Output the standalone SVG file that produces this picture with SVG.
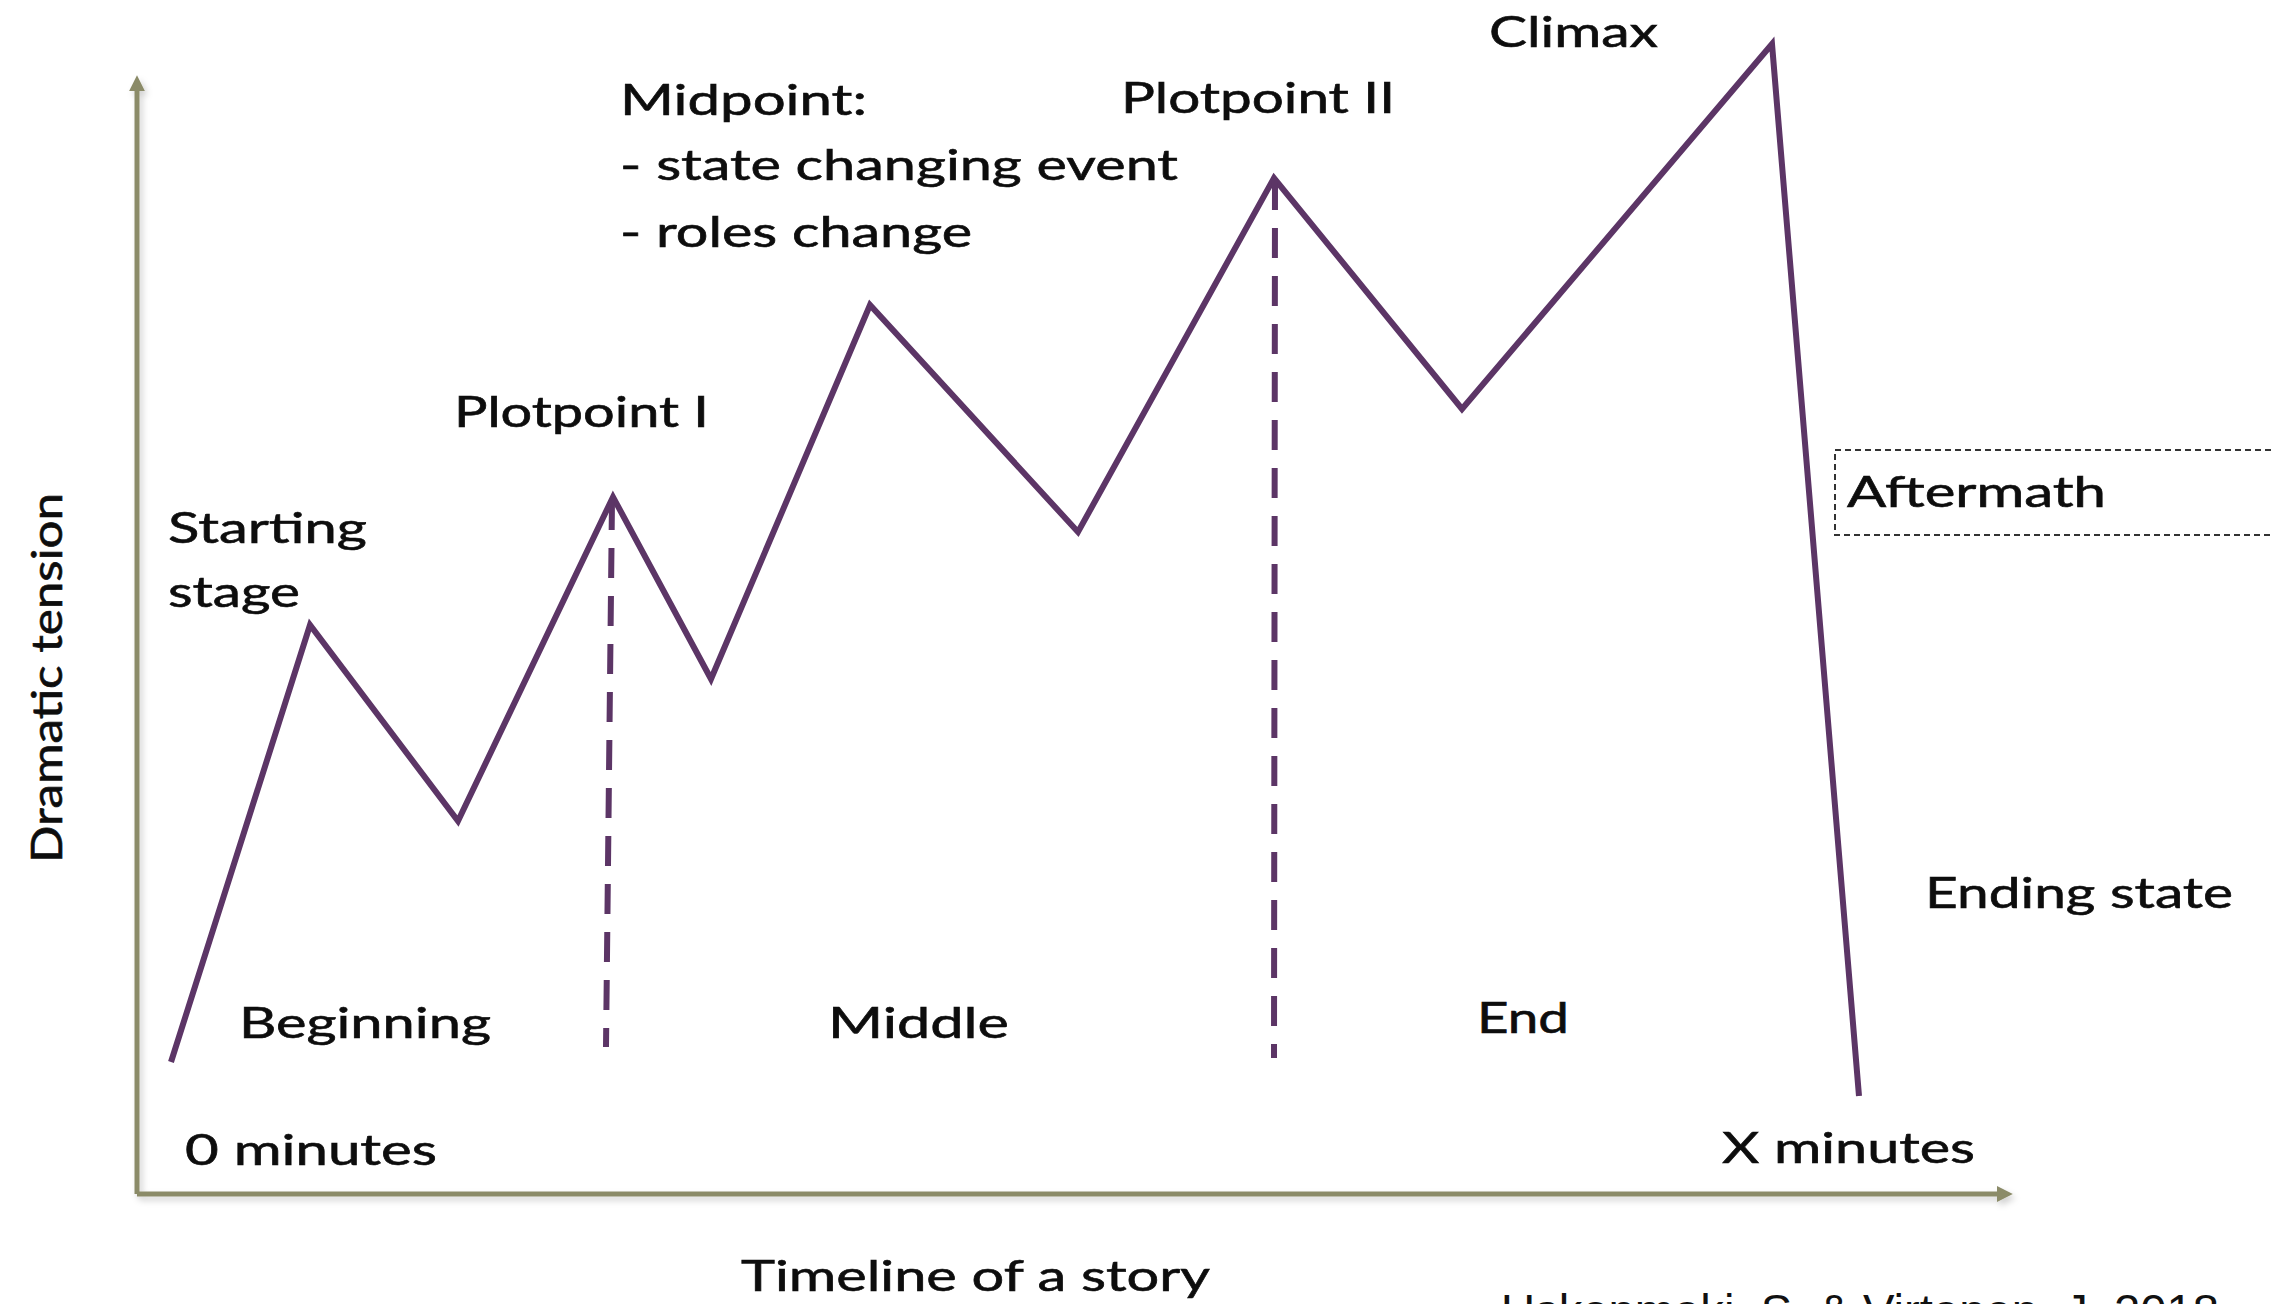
<svg xmlns="http://www.w3.org/2000/svg" width="2274" height="1304" viewBox="0 0 2274 1304">
  <style>
    .lbl { font-family: "Lato", "Open Sans", "Liberation Sans", sans-serif; font-size: 42px; fill: #0d0d0d; stroke: #0d0d0d; stroke-width: 0.6; }
    .axis { stroke: #8b8b68; stroke-width: 5; fill: none; }
    .curve { stroke: #5c3566; stroke-width: 6; fill: none; stroke-linejoin: miter; stroke-linecap: butt; }
    .divider { stroke: #5c3566; stroke-width: 6; fill: none; stroke-dasharray: 30 18; }
    .cite { font-family: "Liberation Sans", Arial, sans-serif; font-size: 46px; fill: #111; }
  </style>
  <defs>
    <filter id="shadow" x="-5%" y="-5%" width="110%" height="110%">
      <feDropShadow dx="3" dy="4" stdDeviation="3" flood-color="#000" flood-opacity="0.18"/>
    </filter>
    <marker id="axisHead" viewBox="0 0 10 10" refX="2" refY="5" markerWidth="3.2" markerHeight="3.2" orient="auto" markerUnits="strokeWidth">
      <path d="M0,0 L10,5 L0,10 z" fill="#8b8b68"/>
    </marker>
  </defs>
  <rect width="2274" height="1304" fill="#ffffff"/>

  <g id="connectors">
    <g id="axes" filter="url(#shadow)">
      <line class="axis" x1="137" y1="1194" x2="137" y2="88" marker-end="url(#axisHead)"/>
      <line class="axis" x1="137" y1="1194" x2="2000" y2="1194" marker-end="url(#axisHead)"/>
    </g>
    <polyline id="tension-curve" class="curve" points="171,1062 310,625 458,821 613,497 711,679 870,305 1078,532 1274,178 1462,409 1772,44 1859,1096"/>
    <line id="divider-1" class="divider" x1="612" y1="500" x2="606" y2="1047"/>
    <line id="divider-2" class="divider" x1="1275" y1="180" x2="1274" y2="1058"/>
  </g>

  <g id="node-climax"><text class="lbl" x="1489" y="47" font-size="40" textLength="169" lengthAdjust="spacingAndGlyphs">Climax</text></g>
  <g id="node-midpoint">
    <text class="lbl" x="620" y="115" textLength="247" lengthAdjust="spacingAndGlyphs">Midpoint:</text>
    <text class="lbl" x="620" y="180" textLength="558" lengthAdjust="spacingAndGlyphs">- state changing event</text>
    <text class="lbl" x="620" y="247" textLength="352" lengthAdjust="spacingAndGlyphs">- roles change</text>
  </g>
  <g id="node-plotpoint2"><text class="lbl" x="1121" y="113" textLength="274" lengthAdjust="spacingAndGlyphs">Plotpoint II</text></g>
  <g id="node-plotpoint1"><text class="lbl" x="454" y="427" textLength="255" lengthAdjust="spacingAndGlyphs">Plotpoint I</text></g>
  <g id="node-starting">
    <text class="lbl" x="168" y="543" textLength="199" lengthAdjust="spacingAndGlyphs">Starting</text>
    <text class="lbl" x="168" y="607" textLength="132" lengthAdjust="spacingAndGlyphs">stage</text>
  </g>
  <g id="node-aftermath">
    <rect x="1835" y="450" width="520" height="85" fill="none" stroke="#333" stroke-width="2" stroke-dasharray="6 4"/>
    <text class="lbl" x="1847" y="507" font-size="45" textLength="259" lengthAdjust="spacingAndGlyphs">Aftermath</text>
  </g>
  <g id="node-ending"><text class="lbl" x="1925" y="908" textLength="308" lengthAdjust="spacingAndGlyphs">Ending state</text></g>
  <g id="node-beginning"><text class="lbl" x="239" y="1038" textLength="252" lengthAdjust="spacingAndGlyphs">Beginning</text></g>
  <g id="node-middle"><text class="lbl" x="828" y="1038" textLength="181" lengthAdjust="spacingAndGlyphs">Middle</text></g>
  <g id="node-end"><text class="lbl" x="1477" y="1033" textLength="92" lengthAdjust="spacingAndGlyphs">End</text></g>
  <g id="node-zero"><text class="lbl" x="185" y="1165" textLength="252" lengthAdjust="spacingAndGlyphs">0 minutes</text></g>
  <g id="node-x"><text class="lbl" x="1722" y="1163" textLength="253" lengthAdjust="spacingAndGlyphs">X minutes</text></g>
  <g id="node-timeline"><text class="lbl" x="741" y="1291" textLength="469" lengthAdjust="spacingAndGlyphs">Timeline of a story</text></g>
  <g id="node-tension"><text class="lbl" transform="translate(62,863) rotate(-90)" x="0" y="0" font-size="56" textLength="370" lengthAdjust="spacingAndGlyphs">Dramatic tension</text></g>
  <g id="node-citation"><text class="cite" x="1501" y="1327" textLength="718" lengthAdjust="spacingAndGlyphs">Uskonmaki, S. &amp; Virtanen, J. 2018</text></g>
</svg>
